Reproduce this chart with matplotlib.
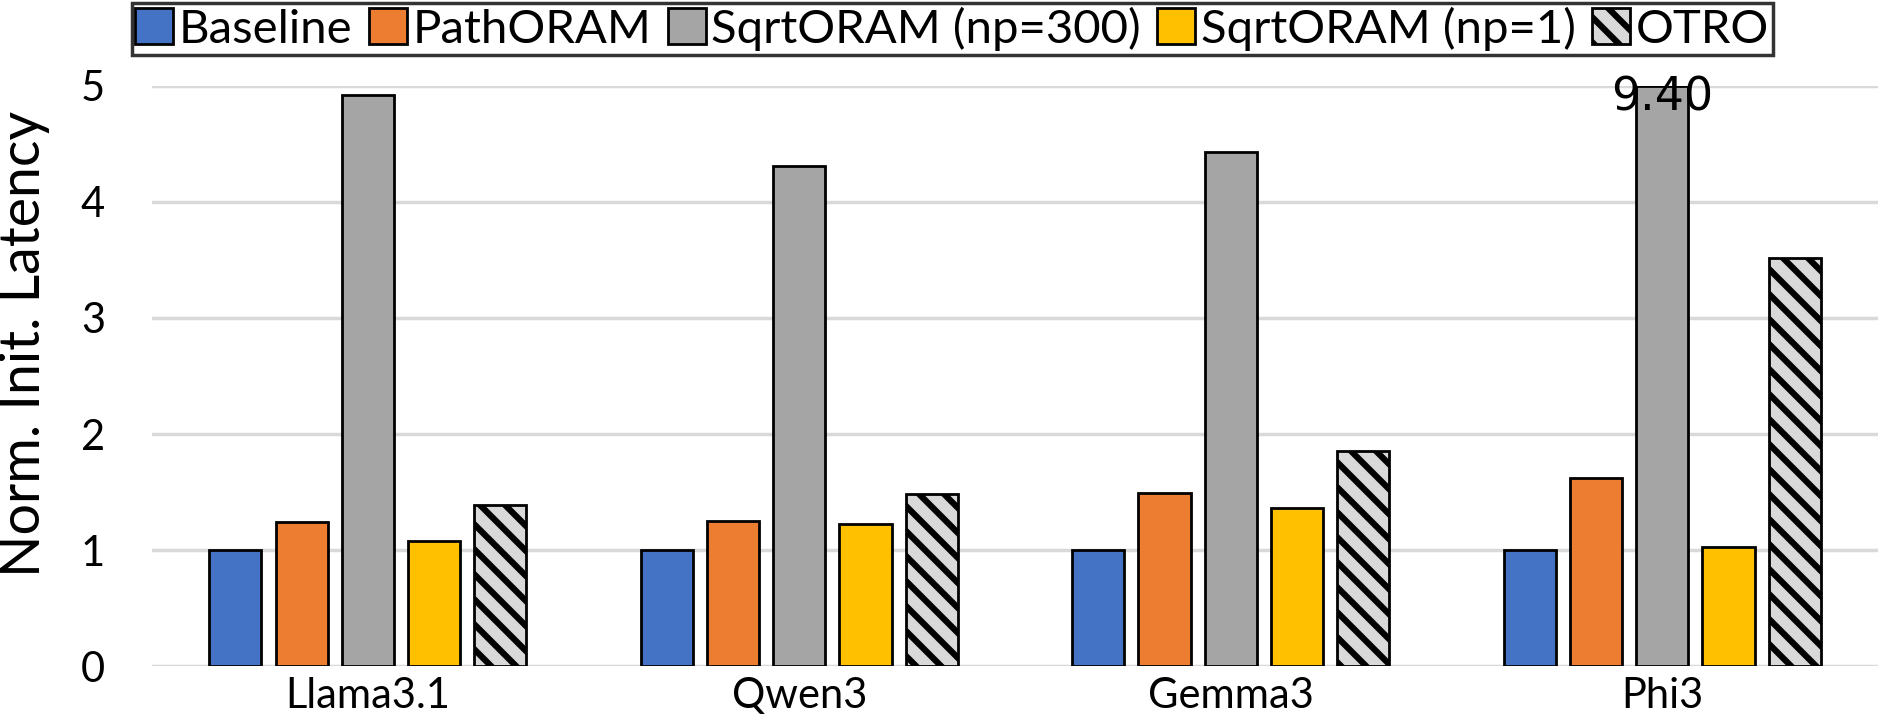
import numpy as np
import matplotlib
matplotlib.use('Agg')
import matplotlib.pyplot as plt
from matplotlib.backend_bases import GraphicsContextBase

# wider hatch stripes, like the Excel pattern fill
_hatch_path = GraphicsContextBase.get_hatch_path
GraphicsContextBase.get_hatch_path = lambda self, density=6.0: _hatch_path(self, density=4)

models = ['Llama3.1', 'Qwen3', 'Gemma3', 'Phi3']
series = ['Baseline', 'PathORAM', 'SqrtORAM (np=300)', 'SqrtORAM (np=1)', 'OTRO']
baseline = [1.0, 1.0, 1.0, 1.0]
path_oram = [1.24, 1.25, 1.49, 1.62]
sqrt_np300 = [4.92, 4.31, 4.43, 9.40]
sqrt_np1 = [1.08, 1.22, 1.36, 1.03]
otro = [1.39, 1.48, 1.85, 3.52]
y_max = 5

colors = ['#4472C4', '#ED7D31', '#A5A5A5', '#FFC000', '#D9D9D9']
hatches = [None, None, None, None, '\\\\']

plt.rcParams['font.family'] = ['Lato', 'DejaVu Sans']
plt.rcParams['hatch.linewidth'] = 4.5
plt.rcParams['hatch.color'] = 'black'

fig = plt.figure(figsize=(18.78, 7.17), dpi=100)
ax = fig.add_axes([0.081, 0.0711, 0.919, 0.809])

x = np.arange(len(models))
width = 0.121
step = 0.1535
data = [baseline, path_oram, sqrt_np300, sqrt_np1, otro]
for i, vals in enumerate(data):
    shown = np.minimum(vals, y_max)
    ax.bar(x + (i - 2) * step, shown, width, color=colors[i], edgecolor='black',
           linewidth=2, hatch=hatches[i], label=series[i], zorder=3)

# clipped bar gets its real value written on top
for j, v in enumerate(sqrt_np300):
    if v > y_max:
        ax.text(x[j], 4.79, f'{v:.2f}', ha='center', va='baseline', fontsize=33,
                family='DejaVu Sans', zorder=4)

ax.set_xlim(-0.5, len(models) - 0.5)
ax.set_ylim(0, y_max)
ax.set_yticks(range(0, 6))
ax.set_xticks(x)
ax.set_xticklabels(models)
ax.tick_params(axis='both', length=0, labelsize=30)
ax.tick_params(axis='y', pad=34)
ax.tick_params(axis='x', pad=8)
ax.grid(axis='y', color='#D9D9D9', linewidth=2.5, zorder=0)
for s in ax.spines.values():
    s.set_visible(False)

ax.set_ylabel('Norm. Init. Latency', fontsize=40)
ax.yaxis.set_label_coords(-0.059, 0.555)

leg = fig.legend(loc='upper center', bbox_to_anchor=(0.507, 0.996), ncol=5, fontsize=34,
                 frameon=True, fancybox=False, edgecolor='black', handlelength=0.8,
                 handleheight=0.8, handletextpad=0.12, columnspacing=0.35, borderpad=0.08,
                 borderaxespad=0, labelspacing=0)
leg.get_frame().set_linewidth(2.5)

fig.savefig('out.png', dpi=100)
